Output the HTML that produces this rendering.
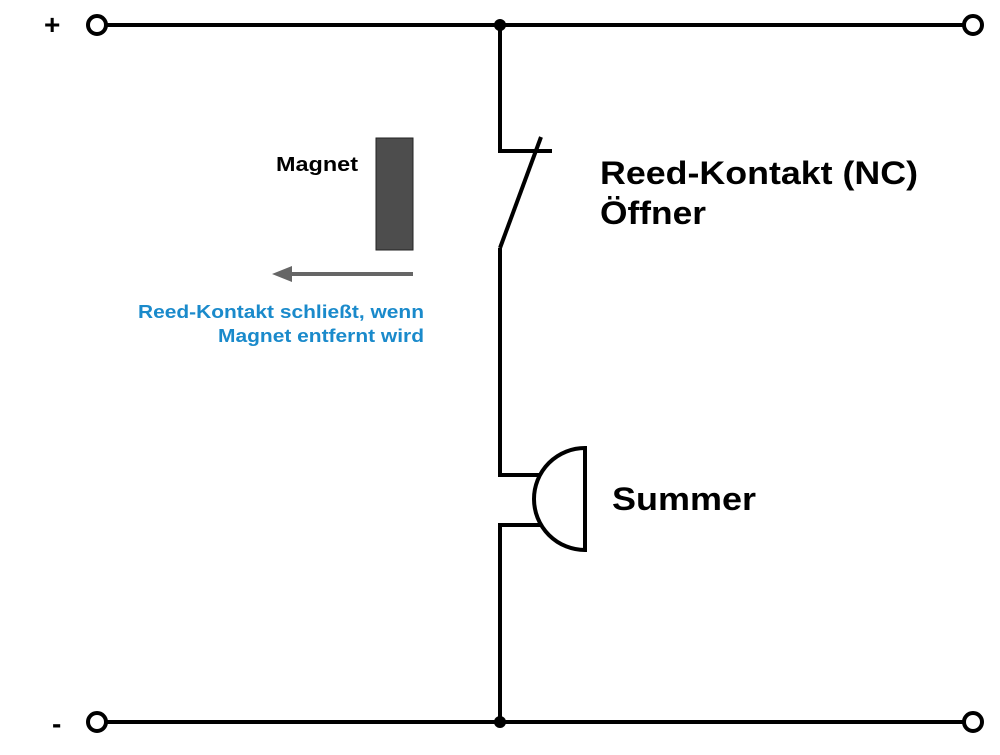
<!DOCTYPE html>
<html><head><meta charset="utf-8"><style>body{margin:0;background:#fff}</style></head><body>
<svg width="1000" height="750" xmlns="http://www.w3.org/2000/svg" font-family="Liberation Sans, Arial, sans-serif" font-weight="bold">
<g stroke="#000" stroke-width="4" fill="none">
<line x1="106" y1="25" x2="964" y2="25"/>
<line x1="106" y1="722" x2="964" y2="722"/>
<polyline points="500,25 500,151 552,151"/>
<line x1="541" y1="137" x2="500" y2="248"/>
<polyline points="500,248 500,475 541,475"/>
<polyline points="541,525 500,525 500,722"/>
<path d="M585,448 A51,51 0 0 0 585,550 Z"/>
<circle cx="97" cy="25" r="9" fill="#fff"/>
<circle cx="973" cy="25" r="9" fill="#fff"/>
<circle cx="97" cy="722" r="9" fill="#fff"/>
<circle cx="973" cy="722" r="9" fill="#fff"/>
</g>
<circle cx="500" cy="25" r="6"/>
<circle cx="500" cy="722" r="6"/>
<rect x="376" y="138" width="37" height="112" fill="#4d4d4d" stroke="#222" stroke-width="1"/>
<line x1="413" y1="274" x2="290" y2="274" stroke="#666" stroke-width="4"/>
<polygon points="272,274 292,266 292,282" fill="#666"/>
<text x="44" y="34" font-size="28">+</text>
<text x="52" y="733" font-size="28">-</text>
<text x="276" y="171" font-size="20" textLength="82" lengthAdjust="spacingAndGlyphs">Magnet</text>
<text x="600" y="184" font-size="32" textLength="318" lengthAdjust="spacingAndGlyphs">Reed-Kontakt (NC)</text>
<text x="600" y="224" font-size="32" textLength="106" lengthAdjust="spacingAndGlyphs">Öffner</text>
<text x="612" y="510" font-size="32" textLength="144" lengthAdjust="spacingAndGlyphs">Summer</text>
<text x="138" y="318" font-size="18" fill="#1a8acb" textLength="286" lengthAdjust="spacingAndGlyphs">Reed-Kontakt schließt, wenn</text>
<text x="218" y="342" font-size="18" fill="#1a8acb" textLength="206" lengthAdjust="spacingAndGlyphs">Magnet entfernt wird</text>
</svg>
</body></html>
